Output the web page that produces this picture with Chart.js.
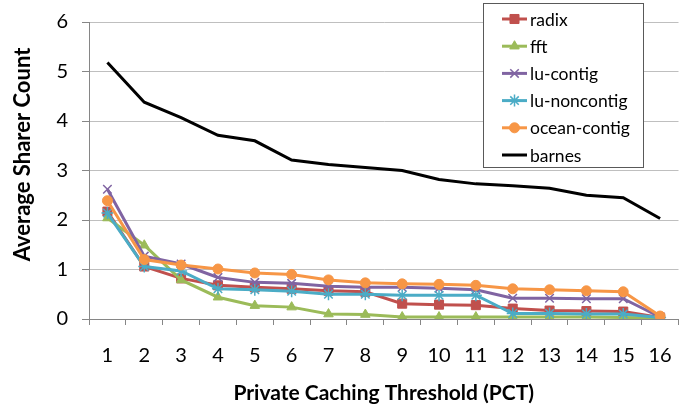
<!DOCTYPE html>
<html>
<head>
<meta charset="utf-8">
<script src="https://cdn.jsdelivr.net/npm/chart.js@4.4.0/dist/chart.umd.min.js"></script>
<style>
  html, body { margin: 0; padding: 0; background: #fff; }
  #wrap { width: 691px; height: 411px; }
</style>
</head>
<body>
<div id="wrap"><canvas id="sharerChart" width="691" height="411"></canvas></div>
<script>
// Values
const thresholds = ['1', '2', '3', '4', '5', '6', '7', '8', '9', '10', '11', '12', '13', '14', '15', '16'];
const radix = [2.17, 1.06, 0.82, 0.68, 0.64, 0.61, 0.57, 0.55, 0.31, 0.29, 0.28, 0.21, 0.17, 0.16, 0.15, 0.03];
const fft = [2.04, 1.49, 0.79, 0.44, 0.27, 0.24, 0.10, 0.09, 0.04, 0.04, 0.04, 0.04, 0.04, 0.04, 0.03, 0.02];
const luContig = [2.62, 1.27, 1.11, 0.84, 0.74, 0.72, 0.66, 0.64, 0.64, 0.62, 0.59, 0.42, 0.42, 0.41, 0.41, 0.04];
const luNoncontig = [2.14, 1.06, 0.97, 0.61, 0.59, 0.56, 0.50, 0.50, 0.48, 0.48, 0.48, 0.11, 0.11, 0.10, 0.10, 0.03];
const oceanContig = [2.39, 1.20, 1.09, 1.01, 0.93, 0.90, 0.79, 0.73, 0.71, 0.70, 0.68, 0.61, 0.59, 0.57, 0.55, 0.06];
const barnes = [5.18, 4.38, 4.07, 3.71, 3.60, 3.21, 3.12, 3.06, 3.00, 2.82, 2.73, 2.69, 2.64, 2.50, 2.45, 2.03];
const yTicks = [0, 1, 2, 3, 4, 5, 6];

const FONT = 'Lato, Calibri, Carlito, sans-serif';

function series(label, data, color, style, radius, order) {
    return {
        label: label,
        data: data,
        borderColor: color,
        backgroundColor: color,
        borderWidth: 3,
        pointStyle: style,
        pointRadius: radius,
        pointBorderWidth: style === 'crossRot' || style === 'star' ? 1.5 : 1,
        pointBorderColor: color,
        pointBackgroundColor: color,
        tension: 0,
        order: order
    };
}

// Excel-style legend: line + marker, boxed, inside the plot
const boxLegend = {
    id: 'boxLegend',
    afterDatasetsDraw(chart) {
        const ctx = chart.ctx;
        ctx.save();
        ctx.fillStyle = '#fff';
        ctx.fillRect(483, 3, 160, 164);
        ctx.strokeStyle = '#595959';
        ctx.lineWidth = 1;
        ctx.strokeRect(483.5, 3.5, 160, 164);
        ctx.font = '17.5px ' + FONT;
        ctx.textBaseline = 'middle';
        chart.data.datasets.forEach((ds, i) => {
            const y = 19 + i * 27.2;
            ctx.strokeStyle = ds.borderColor;
            ctx.lineWidth = 3;
            ctx.beginPath();
            ctx.moveTo(502, y);
            ctx.lineTo(527, y);
            ctx.stroke();
            if (ds.pointRadius > 0) {
                ctx.fillStyle = ds.pointBackgroundColor;
                ctx.strokeStyle = ds.pointBorderColor;
                ctx.lineWidth = ds.pointBorderWidth;
                Chart.helpers.drawPoint(ctx, {
                    pointStyle: ds.pointStyle,
                    radius: ds.pointRadius,
                    borderWidth: ds.pointBorderWidth,
                    rotation: 0
                }, 514.5, y);
            }
            ctx.fillStyle = '#000';
            ctx.textAlign = 'left';
            ctx.fillText(ds.label, 530, y + 1);
        });
        ctx.restore();
    }
};

const ctx = document.getElementById('sharerChart').getContext('2d');
new Chart(ctx, {
    type: 'line',
    data: {
        labels: thresholds,
        datasets: [
            series('radix', radix, '#C0504D', 'rect', 6.4, 5),
            series('fft', fft, '#9BBB59', 'triangle', 5.5, 4),
            series('lu-contig', luContig, '#8064A2', 'crossRot', 6, 3),
            series('lu-noncontig', luNoncontig, '#4BACC6', 'star', 6, 2),
            series('ocean-contig', oceanContig, '#F79646', 'circle', 5, 1),
            series('barnes', barnes, '#000000', 'circle', 0, 0)
        ]
    },
    options: {
        responsive: false,
        animation: false,
        layout: { padding: { top: 8, right: 10, left: 0, bottom: 0 } },
        plugins: {
            legend: { display: false },
            tooltip: { enabled: false }
        },
        scales: {
            x: {
                offset: true,
                afterFit: (scale) => { scale.height = 92; },
                grid: {
                    offset: true,
                    drawOnChartArea: false,
                    drawTicks: true,
                    tickLength: 6,
                    color: '#868686'
                },
                border: { color: '#868686', width: 1 },
                ticks: {
                    color: '#000',
                    padding: 19,
                    maxRotation: 0,
                    font: { family: FONT, size: 20 }
                },
                title: {
                    display: true,
                    text: 'Private Caching Threshold (PCT)',
                    color: '#000',
                    font: { family: FONT, size: 21, weight: 'bold' },
                    padding: { top: 0, bottom: 5 }
                }
            },
            y: {
                min: 0,
                max: 6,
                afterFit: (scale) => { scale.width = 89; },
                afterBuildTicks: (scale) => { scale.ticks = yTicks.map(v => ({ value: v })); },
                grid: {
                    color: '#bfbfbf',
                    lineWidth: 1,
                    tickLength: 7,
                    tickColor: '#868686'
                },
                border: { color: '#868686', width: 1 },
                ticks: {
                    color: '#000',
                    padding: 14,
                    font: { family: FONT, size: 20, lineHeight: 0.8 }
                },
                title: {
                    display: true,
                    // leading spaces lift the rotated title a little, as in the original
                    text: '      Average Sharer Count',
                    color: '#000',
                    font: { family: FONT, size: 22, weight: 'bold' },
                    padding: { top: 10, bottom: 0 }
                }
            }
        }
    },
    plugins: [boxLegend]
});
</script>
</body>
</html>
